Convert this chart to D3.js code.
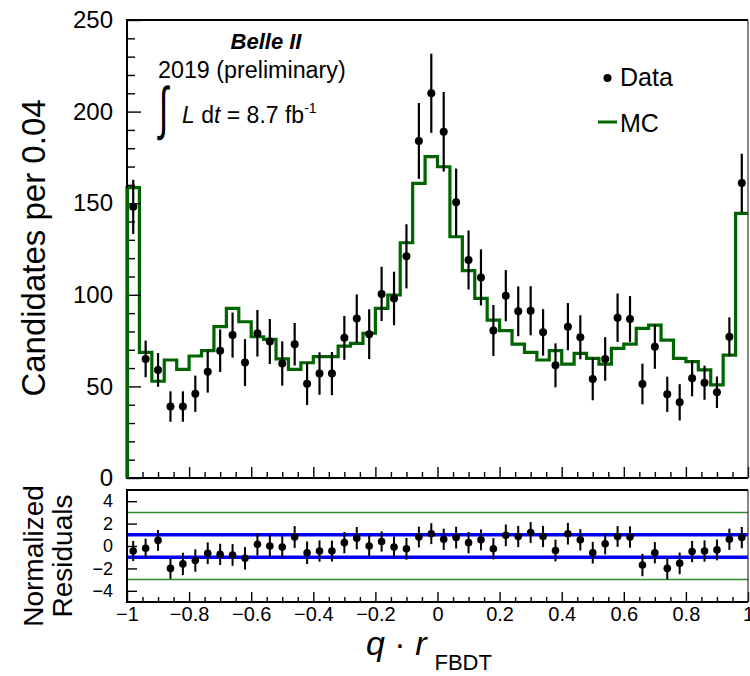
<!DOCTYPE html>
<head>
    <meta charset="utf-8">
    <style>
        body { margin: 0; background: #fff; }
        text { font-family: "Liberation Sans", Arial, Helvetica, sans-serif; }
    </style>
</head>
<svg width="750" height="676" class="fbdt"></svg>
<script src="https://cdn.jsdelivr.net/npm/d3@7"></script>
<script>
    // bin centres of q*r_FBDT, width 0.04
    const binCenters = [-0.98, -0.94, -0.90, -0.86, -0.82, -0.78, -0.74, -0.70, -0.66, -0.62,
                        -0.58, -0.54, -0.50, -0.46, -0.42, -0.38, -0.34, -0.30, -0.26, -0.22,
                        -0.18, -0.14, -0.10, -0.06, -0.02, 0.02, 0.06, 0.10, 0.14, 0.18,
                        0.22, 0.26, 0.30, 0.34, 0.38, 0.42, 0.46, 0.50, 0.54, 0.58,
                        0.62, 0.66, 0.70, 0.74, 0.78, 0.82, 0.86, 0.90, 0.94, 0.98];
    const binWidth = 0.04;
    const dataCounts = [148, 65, 59, 39, 39, 46, 58, 69.5, 78, 63,
                        79, 74.5, 62.5, 73, 51.5, 57, 57, 76.5, 87, 78.5,
                        100.5, 98, 121, 184, 210, 189, 150.5, 119, 109.5, 80.5,
                        99.5, 91, 91.3, 79.5, 61.5, 82.6, 76.8, 54, 65, 87.5,
                        86.8, 51.3, 71.7, 45.7, 41.3, 54.4, 52, 46.8, 77.1, 161];
    const dataErrors = [14.8, 10, 9.2, 8.3, 8.3, 9.9, 11.4, 11.6, 12.3, 12.8,
                        12.7, 12.3, 12.1, 11.6, 11.7, 11.6, 11.8, 12, 13.2, 13.6,
                        14.8, 14.6, 17.5, 20.7, 21.6, 21.7, 18.4, 16.1, 15.3, 13.9,
                        14, 13.6, 13.4, 12.7, 12, 12.9, 12, 11.6, 11.9, 13.2,
                        12.5, 11.1, 12.1, 9.6, 9.9, 9.8, 9.3, 8.6, 10.6, 16];
    const mcCounts = [158.5, 68.6, 52.8, 64.4, 59.3, 66.6, 69.5, 82.6, 92.6, 85.3,
                      77.1, 75.7, 65, 59.3, 62.9, 66.2, 66.2, 72, 73.5, 79,
                      92.6, 99.9, 128.4, 160.8, 175.4, 169.9, 131.7, 113.2, 98.1, 86.2,
                      80.4, 73.1, 68.6, 64.4, 69.5, 62.2, 68, 65.3, 62.2, 70.8,
                      73.1, 81.7, 83.5, 75.3, 65.3, 63.5, 59, 50.8, 67.1, 144.5];
    const residuals = [-0.45, -0.2, 0.5, -2.0, -1.6, -1.3, -0.65, -0.75, -0.8, -1.1,
                       0.15, 0, -0.1, 0.8, -0.6, -0.45, -0.45, 0.3, 0.7, 0,
                       0.4, -0.1, -0.25, 0.8, 1.1, 0.6, 0.75, 0.3, 0.55, -0.25,
                       0.95, 0.85, 1.2, 0.85, -0.4, 1.1, 0.55, -0.6, 0.2, 0.85,
                       0.8, -1.7, -0.6, -2.0, -1.55, -0.5, -0.45, -0.35, 0.6, 0.75];
    const residualErrors = [0.9, 0.85, 0.93, 0.93, 1.0, 1.0, 0.97, 0.95, 0.97, 1.0,
                            1.0, 0.97, 0.97, 0.97, 1.0, 0.95, 0.93, 0.95, 1.0, 0.95,
                            0.9, 0.94, 0.97, 0.93, 0.93, 0.95, 0.97, 0.95, 0.93, 0.95,
                            0.97, 0.95, 0.93, 0.95, 0.97, 0.97, 0.95, 0.97, 0.95, 0.93,
                            0.95, 1.0, 0.95, 0.97, 0.97, 0.95, 0.95, 0.93, 0.95, 0.95];

    const yTicks = [0, 50, 100, 150, 200, 250];
    const xTicks = [-1, -0.8, -0.6, -0.4, -0.2, 0, 0.2, 0.4, 0.6, 0.8, 1];
    const xTickLabels = ["\u22121", "\u22120.8", "\u22120.6", "\u22120.4", "\u22120.2", "0", "0.2", "0.4", "0.6", "0.8", "1"];
    const resTicks = [-4, -2, 0, 2, 4];
    const resTickLabels = ["\u22124", "\u22122", "0", "2", "4"];
    const resBands = [1, 3];   // blue at +-1, green at +-3

    const FONT = '"Liberation Sans", Arial, Helvetica, sans-serif';
    const MCGREEN = "#006400";

    var svg = d3.select(".fbdt");
    var left = 127, right = 748,
        mainTop = 20, mainBottom = 478,
        resTop = 490, resBottom = 602;

    var x = d3.scaleLinear().domain([-1, 1]).range([left, right]),
        y = d3.scaleLinear().domain([0, 250]).range([mainBottom, mainTop]),
        yr = d3.scaleLinear().domain([-5, 5]).range([resBottom, resTop]);

    var xMinor = d3.range(-1, 1.0001, 0.05).filter(function(v) { return Math.abs(Math.round(v * 5) - v * 5) > 1e-6; });
    var yMinor = d3.range(0, 251, 10).filter(function(v) { return v % 50 !== 0; });

    function styleAxis(g, size) {
        g.select(".domain").remove();
        g.attr("font-family", FONT).attr("font-size", size);
        g.selectAll("line").attr("stroke", "#000").attr("stroke-width", 1.4);
        g.selectAll("text").attr("fill", "#000");
    }

    // ---- main panel ----
    // MC histogram outline
    var mcPts = [[x(-1), y(0)]];
    binCenters.forEach(function(c, i) {
        mcPts.push([x(c - binWidth / 2), y(mcCounts[i])]);
        mcPts.push([x(c + binWidth / 2), y(mcCounts[i])]);
    });
    svg.append("path")
        .attr("d", d3.line()(mcPts))
        .attr("fill", "none")
        .attr("stroke", MCGREEN)
        .attr("stroke-width", 3.2)
        .attr("stroke-linejoin", "miter");

    // axes ticks (inside)
    svg.append("g").attr("transform", "translate(" + left + ",0)")
        .call(d3.axisLeft(y).tickValues(yTicks).tickSize(-14).tickPadding(14).tickFormat(d3.format("d")))
        .call(styleAxis, 24);
    svg.append("g").attr("transform", "translate(" + left + ",0)")
        .call(d3.axisLeft(y).tickValues(yMinor).tickSize(-8).tickFormat(""))
        .call(styleAxis, 24);
    svg.append("g").attr("transform", "translate(0," + mainBottom + ")")
        .call(d3.axisBottom(x).tickValues(xTicks).tickSize(-11).tickFormat(""))
        .call(styleAxis, 20);
    svg.append("g").attr("transform", "translate(0," + mainBottom + ")")
        .call(d3.axisBottom(x).tickValues(xMinor).tickSize(-6).tickFormat(""))
        .call(styleAxis, 20);

    // data points
    var pts = svg.append("g");
    pts.selectAll(".err").data(binCenters).enter().append("line")
        .attr("x1", function(d) { return x(d); })
        .attr("x2", function(d) { return x(d); })
        .attr("y1", function(d, i) { return y(dataCounts[i] - dataErrors[i]); })
        .attr("y2", function(d, i) { return y(dataCounts[i] + dataErrors[i]); })
        .attr("stroke", "#000").attr("stroke-width", 2.2);
    pts.selectAll(".pt").data(binCenters).enter().append("circle")
        .attr("cx", function(d) { return x(d); })
        .attr("cy", function(d, i) { return y(dataCounts[i]); })
        .attr("r", 4).attr("fill", "#000");

    // frame
    function frame(top, bottom) {
        svg.append("line").attr("x1", left).attr("x2", right).attr("y1", top).attr("y2", top)
            .attr("stroke", "#000").attr("stroke-width", 2);
        svg.append("line").attr("x1", left).attr("x2", right).attr("y1", bottom).attr("y2", bottom)
            .attr("stroke", "#000").attr("stroke-width", 2);
        svg.append("line").attr("x1", left).attr("x2", left).attr("y1", top - 1).attr("y2", bottom + 1)
            .attr("stroke", "#000").attr("stroke-width", 2);
        svg.append("line").attr("x1", right).attr("x2", right).attr("y1", top).attr("y2", bottom)
            .attr("stroke", "#333").attr("stroke-width", 1.2);
    }
    frame(mainTop, mainBottom);

    // left MC edge drawn over the axis
    svg.append("line").attr("x1", x(-1) + 0.5).attr("x2", x(-1) + 0.5)
        .attr("y1", y(0)).attr("y2", y(mcCounts[0]))
        .attr("stroke", MCGREEN).attr("stroke-width", 3.2);

    // ---- residual panel ----
    resBands.forEach(function(b) {
        [-b, b].forEach(function(v) {
            svg.append("line").attr("x1", left).attr("x2", right)
                .attr("y1", yr(v)).attr("y2", yr(v))
                .attr("stroke", b === 1 ? "#0000ff" : "#2e8b2e")
                .attr("stroke-width", b === 1 ? 3.5 : 1.5);
        });
    });

    svg.append("g").attr("transform", "translate(" + left + ",0)")
        .call(d3.axisLeft(yr).tickValues(resTicks).tickSize(-10).tickPadding(14)
            .tickFormat(function(d, i) { return resTickLabels[i]; }))
        .call(styleAxis, 18);
    svg.append("g").attr("transform", "translate(0," + resBottom + ")")
        .call(d3.axisBottom(x).tickValues(xTicks).tickSize(-10).tickPadding(5)
            .tickFormat(function(d, i) { return xTickLabels[i]; }))
        .call(styleAxis, 20);
    svg.append("g").attr("transform", "translate(0," + resBottom + ")")
        .call(d3.axisBottom(x).tickValues(xMinor).tickSize(-5).tickFormat(""))
        .call(styleAxis, 20);

    var rpts = svg.append("g");
    rpts.selectAll(".rerr").data(binCenters).enter().append("line")
        .attr("x1", function(d) { return x(d); })
        .attr("x2", function(d) { return x(d); })
        .attr("y1", function(d, i) { return yr(residuals[i] - residualErrors[i]); })
        .attr("y2", function(d, i) { return yr(residuals[i] + residualErrors[i]); })
        .attr("stroke", "#000").attr("stroke-width", 2);
    rpts.selectAll(".rpt").data(binCenters).enter().append("circle")
        .attr("cx", function(d) { return x(d); })
        .attr("cy", function(d, i) { return yr(residuals[i]); })
        .attr("r", 3.8).attr("fill", "#000");

    frame(resTop, resBottom);

    // ---- axis titles ----
    svg.append("text")
        .attr("transform", "translate(45,248) rotate(-90)")
        .attr("text-anchor", "middle").attr("font-size", 33)
        .text("Candidates per 0.04");
    svg.append("text")
        .attr("transform", "translate(43,556) rotate(-90)")
        .attr("text-anchor", "middle").attr("font-size", 28)
        .text("Normalized");
    svg.append("text")
        .attr("transform", "translate(71.5,556) rotate(-90)")
        .attr("text-anchor", "middle").attr("font-size", 28)
        .text("Residuals");

    var xt = svg.append("text").attr("x", 366).attr("y", 655).attr("font-size", 34);
    xt.append("tspan").attr("font-style", "italic").text("q");
    xt.append("tspan").text(" \u00b7 ");
    xt.append("tspan").attr("font-style", "italic").text("r");
    xt.append("tspan").attr("dx", 8).attr("dy", 15).attr("font-size", 22).text("FBDT");

    // ---- labels ----
    svg.append("text").attr("x", 266).attr("y", 49)
        .attr("text-anchor", "middle").attr("font-size", 22)
        .attr("font-weight", "bold").attr("font-style", "italic")
        .text("Belle II");
    svg.append("text").attr("x", 158).attr("y", 78).attr("font-size", 23.3)
        .text("2019 (preliminary)");
    svg.append("text").attr("transform", "translate(159,128) scale(0.85,1.45)")
        .attr("font-size", 40)
        .text("\u222b");
    var lum = svg.append("text").attr("x", 182).attr("y", 123).attr("font-size", 23);
    lum.append("tspan").attr("font-style", "italic").text("L");
    lum.append("tspan").text(" d");
    lum.append("tspan").attr("font-style", "italic").text("t");
    lum.append("tspan").text(" = 8.7 fb");
    lum.append("tspan").attr("dy", -10).attr("font-size", 14).text("-1");

    // legend
    svg.append("circle").attr("cx", 607.5).attr("cy", 78).attr("r", 4).attr("fill", "#000");
    svg.append("text").attr("x", 620).attr("y", 86).attr("font-size", 25).text("Data");
    svg.append("line").attr("x1", 598).attr("x2", 617).attr("y1", 122).attr("y2", 122)
        .attr("stroke", MCGREEN).attr("stroke-width", 3);
    svg.append("text").attr("x", 620).attr("y", 131.5).attr("font-size", 25).text("MC");
</script>
